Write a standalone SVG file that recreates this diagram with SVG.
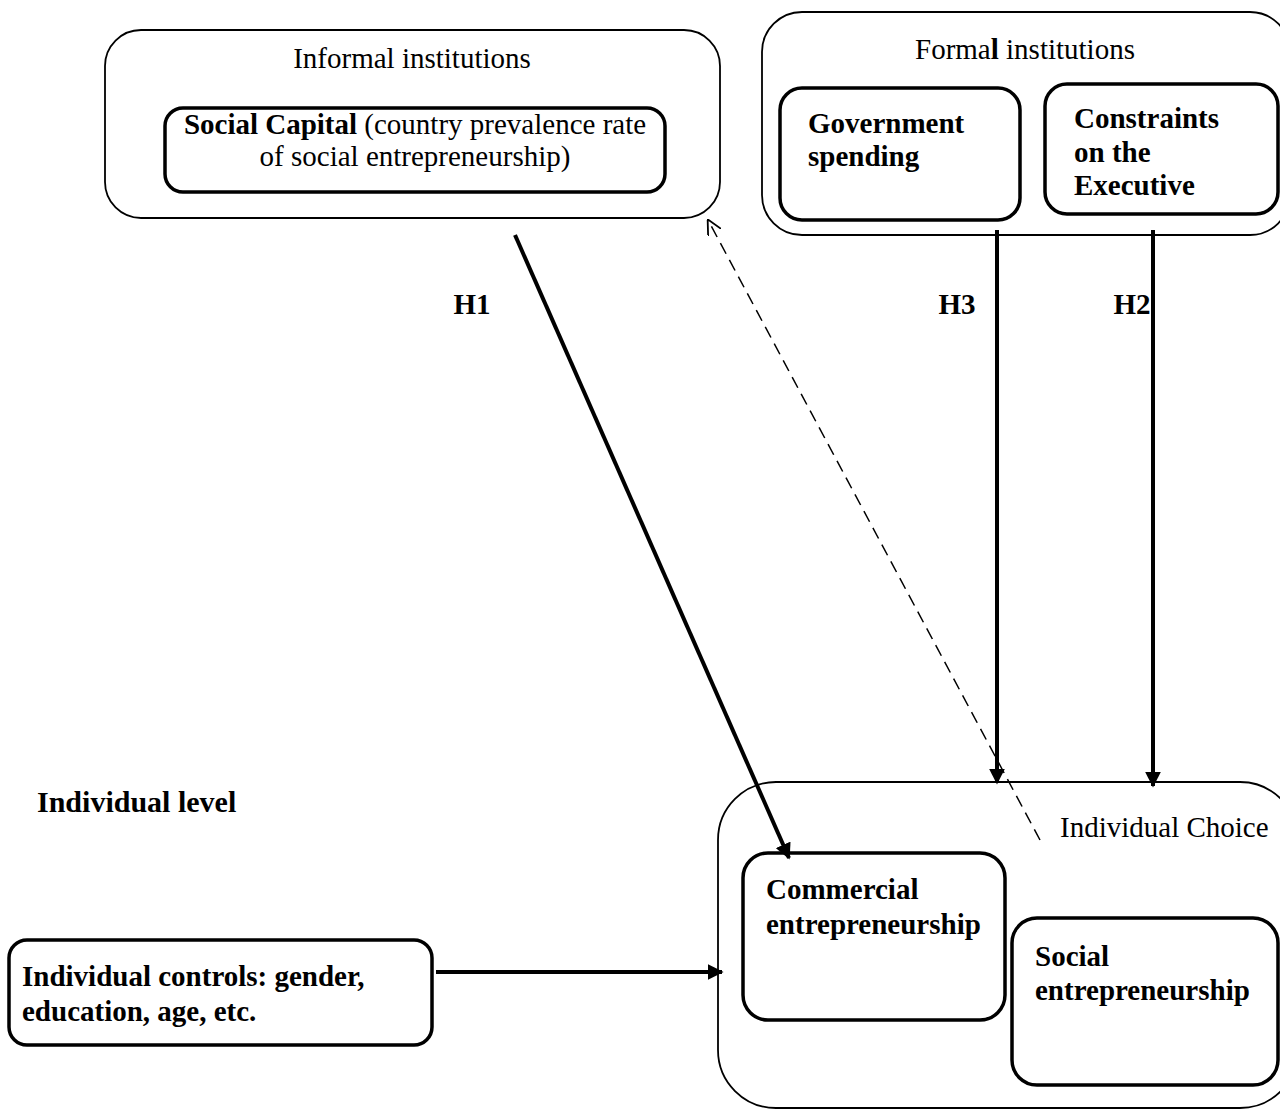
<svg xmlns="http://www.w3.org/2000/svg" width="1280" height="1113" viewBox="0 0 1280 1113">
<style>
text{font-family:"Liberation Serif","Times New Roman",serif;font-size:29px;fill:#000}
.b{font-weight:bold}
.outer{fill:none;stroke:#000;stroke-width:1.8}
.inner{fill:#fff;stroke:#000;stroke-width:3.5}
.conn{stroke:#000;stroke-width:4;fill:none}
.dash{stroke:#000;stroke-width:1.5;fill:none;stroke-dasharray:12 7}
</style>
<defs>
<marker id="ah" viewBox="0 0 10 10" refX="9" refY="5" markerWidth="4" markerHeight="4" orient="auto" markerUnits="strokeWidth">
<path d="M0,0 L10,5 L0,10 z" fill="#000"/>
</marker>
<marker id="oh" viewBox="0 0 10 10" refX="9.5" refY="5" markerWidth="10" markerHeight="10" orient="auto" markerUnits="strokeWidth">
<path d="M0,0 L10,5 L0,10" fill="none" stroke="#000" stroke-width="1.2"/>
</marker>
</defs>
<rect width="1280" height="1113" fill="#fff"/>

<g id="informal">
<rect class="outer" x="105" y="30" width="615" height="188" rx="36"/>
<text x="412" y="68" text-anchor="middle">Informal institutions</text>
</g>
<g id="social-capital">
<rect class="inner" x="165" y="108" width="500" height="84" rx="18"/>
<text x="415" y="134" text-anchor="middle"><tspan class="b">Social Capital</tspan> (country prevalence rate</text>
<text x="415" y="166" text-anchor="middle">of social entrepreneurship)</text>
</g>

<g id="formal">
<rect class="outer" x="762" y="12" width="528" height="223" rx="40"/>
<text x="1025" y="59" text-anchor="middle">Forma<tspan class="b">l</tspan> institutions</text>
</g>
<g id="government">
<rect class="inner" x="780" y="88" width="240" height="132" rx="22"/>
<text class="b" x="808" y="133">Government</text>
<text class="b" x="808" y="166">spending</text>
</g>
<g id="constraints">
<rect class="inner" x="1045" y="84" width="233" height="130" rx="22"/>
<text class="b" x="1074" y="128">Constraints</text>
<text class="b" x="1074" y="162">on the</text>
<text class="b" x="1074" y="195">Executive</text>
</g>

<g id="individual-level">
<text class="b" x="37" y="812" style="font-size:30px">Individual level</text>
</g>

<g id="individual-choice">
<rect class="outer" x="718" y="782" width="580" height="326" rx="58"/>
<text x="1060" y="837">Individual Choice</text>
</g>
<g id="commercial">
<rect class="inner" x="743" y="853" width="262" height="167" rx="25"/>
<text class="b" x="766" y="899">Commercial</text>
<text class="b" x="766" y="934">entrepreneurship</text>
</g>
<g id="social">
<rect class="inner" x="1012" y="918" width="266" height="167" rx="25"/>
<text class="b" x="1035" y="966">Social</text>
<text class="b" x="1035" y="1000">entrepreneurship</text>
</g>

<g id="controls">
<rect class="inner" x="9" y="940" width="423" height="105" rx="18"/>
<text class="b" x="22" y="986">Individual controls: gender,</text>
<text class="b" x="22" y="1021">education, age, etc.</text>
</g>

<g id="connectors">
<line class="conn" x1="515" y1="235" x2="789" y2="858" marker-end="url(#ah)"/>
<line class="conn" x1="997" y1="230" x2="997" y2="783" marker-end="url(#ah)"/>
<line class="conn" x1="1153" y1="230" x2="1153" y2="786" marker-end="url(#ah)"/>
<line class="conn" x1="436" y1="972" x2="722" y2="972" marker-end="url(#ah)"/>
<line class="dash" x1="1040" y1="840" x2="708" y2="220" marker-end="url(#oh)"/>
<text class="b" x="472" y="314" text-anchor="middle">H1</text>
<text class="b" x="957" y="314" text-anchor="middle">H3</text>
<text class="b" x="1132" y="314" text-anchor="middle">H2</text>
</g>
</svg>
